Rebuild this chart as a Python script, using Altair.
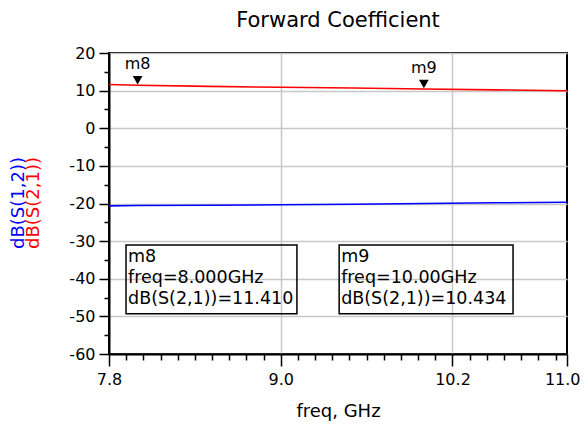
import altair as alt
import pandas as pd

# ---- data ----
freq = [7.8, 8.0, 8.5, 9.0, 9.5, 10.0, 10.5, 11.0]
s21_db = [11.62, 11.41, 11.12, 10.90, 10.70, 10.434, 10.20, 9.98]
s12_db = [-20.62, -20.55, -20.45, -20.35, -20.20, -20.00, -19.82, -19.66]
series_names = ["dB(S(1,2))", "dB(S(2,1))"]
series_colors = ["#0000ff", "#ff0000"]

marker_names = ["m8", "m9"]
marker_freq = [8.0, 10.0]
marker_val = [11.410, 10.434]
marker_text = [
    "m8\nfreq=8.000GHz\ndB(S(2,1))=11.410",
    "m9\nfreq=10.00GHz\ndB(S(2,1))=10.434",
]
# readout box anchors in data coordinates (freq GHz, dB)
box_x0 = [7.919, 9.408]
box_x1 = [9.113, 10.623]
box_y0 = [-31.0, -31.0]
box_y1 = [-49.3, -49.3]

x_major = [7.8, 9.0, 10.2, 11.0]
x_ticks = [round(7.8 + 0.12 * k, 2) for k in range(27)] + [11.0]
y_ticks = list(range(-60, 21, 5))

FONT = "DejaVu Sans"

lines_df = pd.DataFrame(
    {"freq": freq * 2, "dB": s12_db + s21_db,
     "series": [series_names[0]] * len(freq) + [series_names[1]] * len(freq)}
)
mk_df = pd.DataFrame({"name": marker_names, "freq": marker_freq, "dB": marker_val})
box_df = pd.DataFrame({"x0": box_x0, "x1": box_x1, "y0": box_y0, "y1": box_y1,
                       "txt": marker_text})

is_major_x = "indexof([7.8, 9, 10.2, 11], round(datum.value*100)/100) >= 0"
is_grid_x = "indexof([9, 10.2], round(datum.value*100)/100) >= 0"
is_last_x = "datum.value >= 10.99"

x_scale = alt.Scale(domain=[7.8, 11.0], nice=False, zero=False)
y_scale = alt.Scale(domain=[-60, 20], nice=False, zero=False)

x_axis = alt.Axis(
    values=x_ticks, format=".1f", title="freq, GHz",
    labelExpr=f"({is_major_x}) ? datum.label : ''",
    tickSize={"condition": {"test": is_major_x, "value": 12}, "value": 6},
    gridOpacity={"condition": {"test": is_grid_x, "value": 1}, "value": 0},
    labelAlign={"condition": {"test": is_last_x, "value": "right"}, "value": "center"},
    labelOffset={"condition": {"test": is_last_x, "value": 13}, "value": 0},
    labelPadding=5, titlePadding=15, labelFlush=False, labelOverlap=False,
)
y_axis = alt.Axis(
    values=y_ticks, title=None,
    labelExpr="datum.value % 10 === 0 ? replace(datum.label, '\u2212', '-') : ''",
    tickSize={"condition": {"test": "datum.value % 10 === 0", "value": 10}, "value": 5},
    gridOpacity={"condition": {"test": "datum.value % 10 === 0", "value": 1}, "value": 0},
    labelPadding=4, labelOverlap=False,
)

X = lambda f: alt.X(f, type="quantitative", scale=x_scale, axis=x_axis)
Y = lambda f: alt.Y(f, type="quantitative", scale=y_scale, axis=y_axis)

lines = alt.Chart(lines_df).mark_line(strokeWidth=1.6, interpolate="linear").encode(
    x=X("freq"), y=Y("dB"),
    color=alt.Color("series:N", scale=alt.Scale(domain=series_names, range=series_colors), legend=None),
)

tri = alt.Chart(mk_df).mark_point(shape="triangle-down", filled=True, color="black",
                                  size=95, opacity=1, yOffset=-5).encode(x=X("freq"), y=Y("dB"))
tri_lab = alt.Chart(mk_df).mark_text(font=FONT, fontSize=16, dy=-21, color="black").encode(
    x=X("freq"), y=Y("dB"), text="name:N")

boxes = alt.Chart(box_df).mark_rect(fill=None, stroke="black", strokeWidth=1.5).encode(
    x=X("x0"), x2="x1", y=Y("y0"), y2="y1")
box_txt = alt.Chart(box_df).mark_text(font=FONT, fontSize=17.5, align="left", baseline="top",
                                      lineBreak="\n", lineHeight=21, dx=2, dy=3,
                                      color="black").encode(
    x=X("x0"), y=Y("y0"), text="txt:N")

ylab_df = pd.DataFrame({"t": series_names, "c": series_colors})
ylab_blue = alt.Chart(ylab_df.iloc[[0]]).mark_text(
    font=FONT, fontSize=18, angle=270, baseline="middle", align="center", color=series_colors[0]
).encode(x=alt.value(-90), y=alt.value(150), text="t:N")
ylab_red = alt.Chart(ylab_df.iloc[[1]]).mark_text(
    font=FONT, fontSize=18, angle=270, baseline="middle", align="center", color=series_colors[1]
).encode(x=alt.value(-75), y=alt.value(150), text="t:N")

chart = alt.layer(lines, tri, tri_lab, boxes, box_txt, ylab_blue, ylab_red).properties(
    width=458, height=301,
    background="white",
    title=alt.TitleParams("Forward Coefficient", font=FONT, fontSize=21, fontWeight="normal",
                          anchor="middle", offset=14, color="black"),
    autosize=alt.AutoSizeParams(type="none"),
    padding={"left": 101, "top": 45, "right": 13, "bottom": 68},
).configure_view(stroke="black", strokeWidth=2).configure_axis(
    labelFont=FONT, labelFontSize=16, labelColor="black",
    titleFont=FONT, titleFontSize=18, titleFontWeight="normal", titleColor="black",
    domainColor="black", domainWidth=2, tickColor="black", tickWidth=1.5,
    gridColor="#c8c8c8", gridWidth=1.5,
)

chart.save("out.html", embed_options={"renderer": "svg", "actions": False})
